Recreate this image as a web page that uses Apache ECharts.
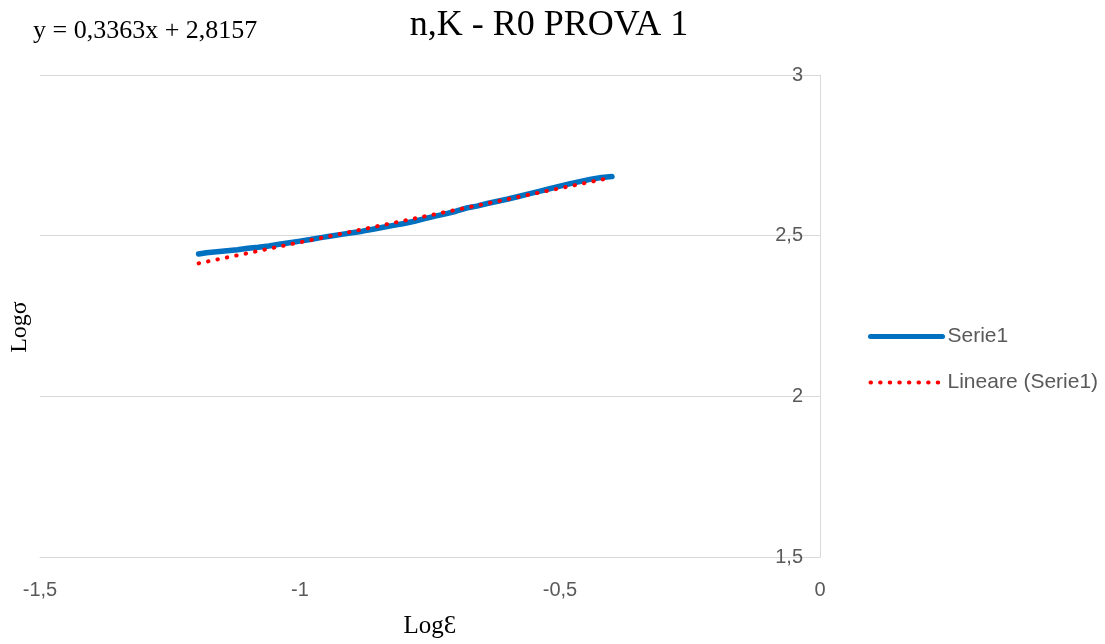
<!DOCTYPE html>
<html>
<head>
<meta charset="utf-8">
<script src="https://cdn.jsdelivr.net/npm/echarts@6/dist/echarts.min.js"></script>
<style>html,body{margin:0;padding:0;background:#fff}#c{width:1105px;height:644px}</style>
</head>
<body>
<div id="c"></div>
<script>
// Serie1 (LogƐ, Logσ)
const serieX = [-1.195,-1.18,-1.16,-1.14,-1.12,-1.10,-1.08,-1.06,-1.04,-1.02,-1.00,-0.98,-0.96,-0.94,-0.92,-0.90,-0.88,-0.86,-0.84,-0.82,-0.80,-0.78,-0.76,-0.74,-0.72,-0.70,-0.68,-0.66,-0.64,-0.62,-0.60,-0.58,-0.56,-0.54,-0.52,-0.50,-0.48,-0.46,-0.44,-0.42,-0.40];
const serieY = [2.443,2.447,2.450,2.453,2.456,2.461,2.464,2.468,2.473,2.478,2.483,2.488,2.494,2.499,2.504,2.509,2.514,2.520,2.526,2.532,2.538,2.545,2.553,2.561,2.568,2.576,2.586,2.592,2.600,2.607,2.614,2.622,2.630,2.638,2.646,2.654,2.662,2.669,2.676,2.681,2.684];
// Linear trendline endpoints (y = 0,3363x + 2,8157)
const trendX = [-1.195, -0.40];
const trendY = [2.4138, 2.6812];
const xTicks = [-1.5, -1, -0.5, 0];
const yTicks = [1.5, 2, 2.5, 3];
const titleText = 'n,K - R0 PROVA 1';
const equationText = 'y = 0,3363x + 2,8157';
const xName = 'LogƐ';
const yName = 'Logσ';
const seriesNames = ['Serie1', 'Lineare (Serie1)'];

const fmt = v => String(v).replace('.', ',');
const serif = 'Liberation Serif';
const sans = 'Liberation Sans';
const grey = '#595959';
const gridCol = '#d9d9d9';
const hiddenSymbol = { color: 'transparent', borderWidth: 0, opacity: 0 };

const chart = echarts.init(document.getElementById('c'));
chart.setOption({
  animation: false,
  backgroundColor: '#fff',
  title: {
    text: titleText, left: 544, top: 3, textAlign: 'center',
    textStyle: { fontFamily: serif, fontSize: 36, fontWeight: 'normal', color: '#000' }
  },
  graphic: [
    { type: 'text', left: 33, top: 18, style: { text: equationText, font: '26px "' + serif + '"', fill: '#000' } },
    { type: 'text', x: 20, y: 327, rotation: Math.PI / 2,
      style: { text: yName, font: '24px "' + serif + '"', fill: '#000', align: 'center', verticalAlign: 'middle' } }
  ],
  legend: {
    orient: 'vertical', left: 863, top: 321, itemWidth: 72, itemHeight: 6, itemGap: 25,
    textStyle: { fontFamily: sans, fontSize: 21, color: grey, lineHeight: 20 },
    data: [
      { name: seriesNames[0], lineStyle: { width: 5 }, itemStyle: hiddenSymbol },
      { name: seriesNames[1], lineStyle: { width: 4 }, itemStyle: hiddenSymbol }
    ]
  },
  grid: { left: 40, right: 285, top: 75, bottom: 87, outerBoundsMode: 'none' },
  xAxis: {
    type: 'value', min: xTicks[0], max: xTicks[xTicks.length - 1], interval: 0.5,
    axisLine: { show: true, lineStyle: { color: gridCol } },
    axisTick: { show: false }, splitLine: { show: false },
    axisLabel: { formatter: fmt, fontFamily: sans, fontSize: 20, color: grey, margin: 23 },
    name: xName, nameLocation: 'middle', nameGap: 57,
    nameTextStyle: { fontFamily: serif, fontSize: 25, color: '#000' }
  },
  yAxis: {
    type: 'value', position: 'right', min: yTicks[0], max: yTicks[yTicks.length - 1], interval: 0.5,
    axisLine: { show: true, lineStyle: { color: gridCol } },
    axisTick: { show: false },
    splitLine: { show: true, lineStyle: { color: gridCol } },
    axisLabel: { inside: true, formatter: fmt, fontFamily: sans, fontSize: 20, color: grey, margin: 17 }
  },
  series: [
    {
      name: seriesNames[0], type: 'line', showSymbol: false, symbol: 'none',
      data: serieX.map((x, i) => [x, serieY[i]]),
      lineStyle: { color: '#0070C0', width: 5.5, cap: 'round', join: 'round' },
      itemStyle: { color: '#0070C0' }
    },
    {
      name: seriesNames[1], type: 'line', showSymbol: false, symbol: 'none',
      data: trendX.map((x, i) => [x, trendY[i]]),
      lineStyle: { color: '#ff0000', width: 4, type: [0.5, 9.1], cap: 'round' },
      itemStyle: { color: '#ff0000' }
    }
  ]
});
</script>
</body>
</html>
